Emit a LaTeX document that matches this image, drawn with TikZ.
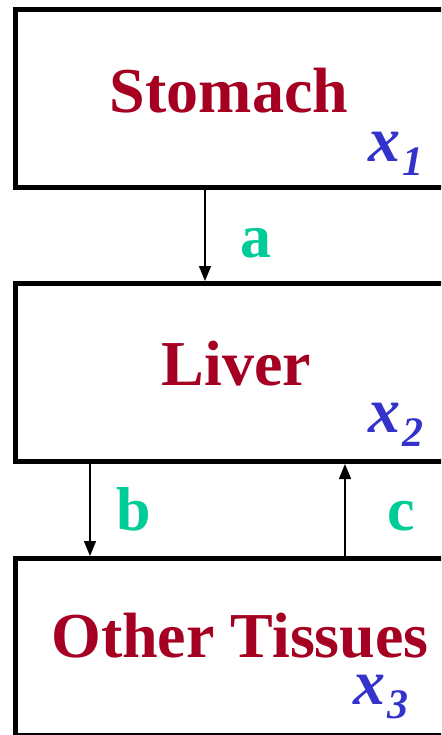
\documentclass[tikz,border=0pt]{standalone}
\usepackage{fontspec}
\setmainfont{Liberation Serif}
\usetikzlibrary{arrows.meta}
\definecolor{organred}{HTML}{A50021}
\definecolor{varblue}{HTML}{3333CC}
\definecolor{rategreen}{HTML}{00CC99}
\tikzset{
  box/.style={draw=black, line width=5pt, fill=white, inner sep=0pt, anchor=north west},
  organ/.style={text=organred, font=\fontsize{64}{70}\selectfont\bfseries, anchor=base, inner sep=0pt},
  var/.style={text=varblue, font=\fontsize{64}{70}\selectfont\bfseries\itshape, anchor=base west, inner sep=0pt},
  rate/.style={text=rategreen, font=\fontsize{62}{70}\selectfont\bfseries, anchor=base west, inner sep=0pt},
  flow/.style={line width=1.5pt, -{Triangle[length=15pt,width=12pt]}}
}
\newcommand{\subvar}[2]{#1\hspace{2pt}\raisebox{-14pt}{\fontsize{42}{46}\selectfont #2}}
\begin{document}
\begin{tikzpicture}[x=1pt,y=-1pt]
\useasboundingbox (0,0) rectangle (441,735);
\clip (0,0) rectangle (441,735);
\fill[white] (0,0) rectangle (441,735);
\node[box, minimum width=460pt, minimum height=178pt] (stomach) at (13,7) {};
\node[box, minimum width=460pt, minimum height=178pt] (liver) at (13,281) {};
\node[box, minimum width=460pt, minimum height=177pt] (other) at (13,556) {};
\node[organ] (tstomach) at (229,113) {Stomach};
\node[organ] (tliver) at (236.5,385) {Liver};
\node[organ] (tother) at (240,657) {Other Tissues};
\node[var] (x1) at (368,162) {\subvar{x}{1}};
\node[var] (x2) at (368,432) {\subvar{x}{2}};
\node[var] (x3) at (353,704) {\subvar{x}{3}};
\coordinate (ax) at (205,0);
\coordinate (bx) at (90,0);
\coordinate (cx) at (345,0);
\draw[flow] (stomach.south -| ax) -- (liver.north -| ax);
\draw[flow] (liver.south -| bx) -- (other.north -| bx);
\draw[flow] (other.north -| cx) -- (liver.south -| cx);
\node[rate] (la) at (240,257) {a};
\node[rate] (lb) at (116,530) {b};
\node[rate] (lc) at (387,530) {c};
\end{tikzpicture}
\end{document}
